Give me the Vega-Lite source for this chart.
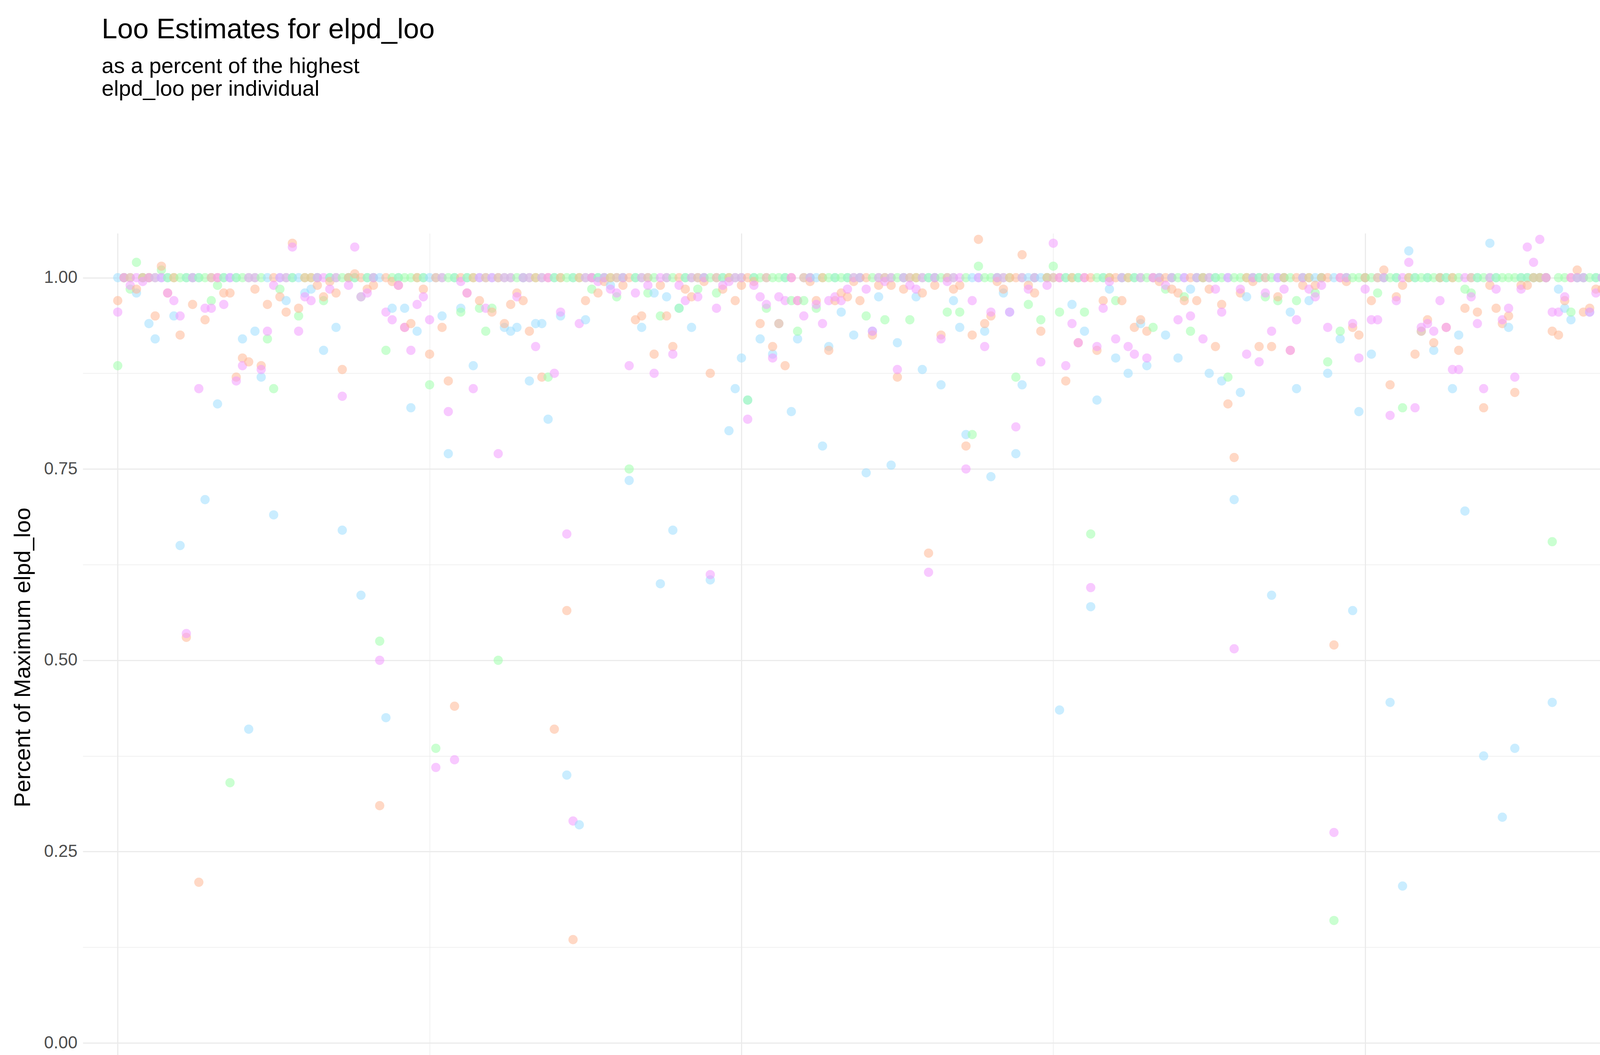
{
  "$schema": "https://vega.github.io/schema/vega-lite/v6.json",
  "autosize": {"type": "pad"},
  "width": 4410,
  "height": 2170,
  "padding": {"left": 30, "right": 10, "top": 40, "bottom": 20},
  "background": "white",
  "title": {
    "text": "Loo Estimates for elpd_loo",
    "subtitle": ["as a percent of the highest", "elpd_loo per individual"],
    "anchor": "start",
    "frame": "bounds",
    "offset": 40,
    "font": "Liberation Sans",
    "fontSize": 72,
    "fontWeight": "normal",
    "subtitleFont": "Liberation Sans",
    "subtitleFontSize": 56,
    "subtitlePadding": 30,
    "subtitleColor": "black",
    "dx": 230
  },
  "config": {"view": {"stroke": null}},
  "data": {"values": [
{"i":0,"n":1,"s":0.885,"y":0.97,"a":0.955},{"i":1,"n":1,"s":1,"y":1,"a":1},{"i":2,"n":1,"s":0.985,"y":1,"a":0.99},{"i":3,"n":0.98,"s":1.02,"y":0.985,"a":1},{"i":4,"n":1,"s":1,"y":1,"a":0.995},
{"i":5,"n":0.94,"s":1,"y":1,"a":1},{"i":6,"n":0.92,"s":1,"y":0.95,"a":1},{"i":7,"n":1,"s":1.01,"y":1.015,"a":1},{"i":8,"n":1,"s":1,"y":0.98,"a":0.98},{"i":9,"n":0.95,"s":1,"y":1,"a":0.97},
{"i":10,"n":0.65,"s":1,"y":0.925,"a":0.95},{"i":11,"n":1,"s":1,"y":0.53,"a":0.535},{"i":12,"n":1,"s":1,"y":0.965,"a":1},{"i":13,"n":1,"s":1,"y":0.21,"a":0.855},{"i":14,"n":0.71,"s":1,"y":0.945,"a":0.96},
{"i":15,"n":1,"s":0.97,"y":1,"a":0.96},{"i":16,"n":0.835,"s":0.99,"y":1,"a":1},{"i":17,"n":1,"s":1,"y":0.98,"a":0.965},{"i":18,"n":1,"s":0.34,"y":0.98,"a":1},{"i":19,"n":1,"s":1,"y":0.87,"a":0.865},
{"i":20,"n":0.92,"s":1,"y":0.895,"a":0.885},{"i":21,"n":0.41,"s":1,"y":0.89,"a":1},{"i":22,"n":0.93,"s":1,"y":0.985,"a":1},{"i":23,"n":0.87,"s":1,"y":0.885,"a":0.88},{"i":24,"n":1,"s":0.92,"y":0.965,"a":0.93},
{"i":25,"n":0.69,"s":0.855,"y":1,"a":0.99},{"i":26,"n":1,"s":0.985,"y":0.975,"a":1},{"i":27,"n":0.97,"s":1,"y":0.955,"a":1},{"i":28,"n":1,"s":1,"y":1.045,"a":1.04},{"i":29,"n":1,"s":0.95,"y":0.96,"a":0.93},
{"i":30,"n":0.98,"s":1,"y":1,"a":0.975},{"i":31,"n":0.985,"s":1,"y":1,"a":0.97},{"i":32,"n":1,"s":1,"y":0.99,"a":1},{"i":33,"n":0.905,"s":0.97,"y":0.975,"a":1},{"i":34,"n":1,"s":1,"y":0.995,"a":0.985},
{"i":35,"n":0.935,"s":1,"y":0.98,"a":1},{"i":36,"n":0.67,"s":1,"y":0.88,"a":0.845},{"i":37,"n":1,"s":1,"y":1,"a":0.99},{"i":38,"n":1,"s":1,"y":1.005,"a":1.04},{"i":39,"n":0.585,"s":0.975,"y":1,"a":0.975},
{"i":40,"n":1,"s":1,"y":0.985,"a":0.98},{"i":41,"n":1,"s":1,"y":0.99,"a":1},{"i":42,"n":1,"s":0.525,"y":0.31,"a":0.5},{"i":43,"n":0.425,"s":0.905,"y":1,"a":0.955},{"i":44,"n":0.96,"s":1,"y":0.995,"a":0.945},
{"i":45,"n":1,"s":1,"y":0.99,"a":0.99},{"i":46,"n":0.96,"s":1,"y":0.935,"a":0.935},{"i":47,"n":0.83,"s":1,"y":0.94,"a":0.905},{"i":48,"n":0.93,"s":1,"y":1,"a":0.965},{"i":49,"n":1,"s":1,"y":0.985,"a":0.975},
{"i":50,"n":1,"s":0.86,"y":0.9,"a":0.945},{"i":51,"n":1,"s":0.385,"y":1,"a":0.36},{"i":52,"n":0.95,"s":1,"y":0.935,"a":1},{"i":53,"n":0.77,"s":1,"y":0.865,"a":0.825},{"i":54,"n":1,"s":1,"y":0.44,"a":0.37},
{"i":55,"n":0.96,"s":0.955,"y":1,"a":0.995},{"i":56,"n":1,"s":1,"y":0.98,"a":0.98},{"i":57,"n":0.885,"s":1,"y":1,"a":0.855},{"i":58,"n":1,"s":0.96,"y":0.97,"a":1},{"i":59,"n":1,"s":0.93,"y":1,"a":0.96},
{"i":60,"n":1,"s":0.96,"y":0.955,"a":1},{"i":61,"n":1,"s":0.5,"y":1,"a":0.77},{"i":62,"n":0.935,"s":1,"y":0.94,"a":1},{"i":63,"n":0.93,"s":1,"y":0.965,"a":1},{"i":64,"n":0.935,"s":1,"y":0.98,"a":0.975},
{"i":65,"n":1,"s":1,"y":0.97,"a":1},{"i":66,"n":0.865,"s":1,"y":0.93,"a":1},{"i":67,"n":0.94,"s":1,"y":1,"a":0.91},{"i":68,"n":0.94,"s":1,"y":0.87,"a":1},{"i":69,"n":0.815,"s":0.87,"y":1,"a":1},
{"i":70,"n":1,"s":1,"y":0.41,"a":0.875},{"i":71,"n":0.95,"s":1,"y":1,"a":0.955},{"i":72,"n":0.35,"s":1,"y":0.565,"a":0.665},{"i":73,"n":1,"s":1,"y":0.135,"a":0.29},{"i":74,"n":0.285,"s":1,"y":1,"a":0.94},
{"i":75,"n":0.945,"s":1,"y":0.97,"a":1},{"i":76,"n":1,"s":0.985,"y":1,"a":1},{"i":77,"n":1,"s":1,"y":0.98,"a":0.995},{"i":78,"n":1,"s":1,"y":0.995,"a":1},{"i":79,"n":0.99,"s":1,"y":1,"a":0.985},
{"i":80,"n":1,"s":0.975,"y":1,"a":0.98},{"i":81,"n":1,"s":1,"y":0.99,"a":1},{"i":82,"n":0.735,"s":0.75,"y":1,"a":0.885},{"i":83,"n":1,"s":1,"y":0.945,"a":0.98},{"i":84,"n":0.935,"s":1,"y":0.95,"a":1},
{"i":85,"n":1,"s":0.98,"y":1,"a":0.99},{"i":86,"n":0.98,"s":1,"y":0.9,"a":0.875},{"i":87,"n":0.6,"s":0.95,"y":0.99,"a":1},{"i":88,"n":0.975,"s":1,"y":0.95,"a":1},{"i":89,"n":0.67,"s":1,"y":0.91,"a":0.9},
{"i":90,"n":0.96,"s":0.96,"y":1,"a":0.99},{"i":91,"n":1,"s":1,"y":0.985,"a":0.97},{"i":92,"n":0.935,"s":1,"y":0.975,"a":1},{"i":93,"n":1,"s":0.985,"y":1,"a":0.975},{"i":94,"n":1,"s":1,"y":0.995,"a":1},
{"i":95,"n":0.605,"s":1,"y":0.875,"a":0.612},{"i":96,"n":1,"s":0.98,"y":1,"a":0.96},{"i":97,"n":1,"s":1,"y":0.985,"a":0.99},{"i":98,"n":0.8,"s":1,"y":1,"a":0.995},{"i":99,"n":0.855,"s":1,"y":0.97,"a":1},
{"i":100,"n":0.895,"s":1,"y":0.99,"a":1},{"i":101,"n":0.84,"s":0.84,"y":1,"a":0.815},{"i":102,"n":1,"s":1,"y":0.995,"a":0.99},{"i":103,"n":0.92,"s":1,"y":0.94,"a":0.975},{"i":104,"n":1,"s":0.96,"y":1,"a":0.965},
{"i":105,"n":0.9,"s":1,"y":0.91,"a":0.895},{"i":106,"n":0.94,"s":1,"y":0.94,"a":0.975},{"i":107,"n":1,"s":1,"y":0.885,"a":0.97},{"i":108,"n":0.825,"s":0.97,"y":1,"a":1},{"i":109,"n":0.92,"s":0.93,"y":0.97,"a":0.97},
{"i":110,"n":1,"s":0.97,"y":1,"a":0.95},{"i":111,"n":1,"s":1,"y":0.995,"a":1},{"i":112,"n":1,"s":0.96,"y":0.97,"a":0.965},{"i":113,"n":0.78,"s":1,"y":1,"a":0.94},{"i":114,"n":0.91,"s":1,"y":0.905,"a":0.97},
{"i":115,"n":1,"s":1,"y":0.97,"a":0.975},{"i":116,"n":0.955,"s":1,"y":0.98,"a":0.97},{"i":117,"n":1,"s":1,"y":0.975,"a":0.985},{"i":118,"n":0.925,"s":1,"y":0.995,"a":1},{"i":119,"n":1,"s":1,"y":0.97,"a":1},
{"i":120,"n":0.745,"s":0.95,"y":1,"a":0.985},{"i":121,"n":0.93,"s":1,"y":0.925,"a":0.93},{"i":122,"n":0.975,"s":1,"y":0.99,"a":1},{"i":123,"n":1,"s":0.945,"y":1,"a":0.995},{"i":124,"n":0.755,"s":1,"y":0.99,"a":1},
{"i":125,"n":0.915,"s":1,"y":0.87,"a":0.88},{"i":126,"n":1,"s":1,"y":0.985,"a":1},{"i":127,"n":1,"s":0.945,"y":1,"a":0.99},{"i":128,"n":0.975,"s":1,"y":1,"a":0.985},{"i":129,"n":0.88,"s":1,"y":0.98,"a":1},
{"i":130,"n":1,"s":1,"y":0.64,"a":0.615},{"i":131,"n":1,"s":1,"y":0.99,"a":1},{"i":132,"n":0.86,"s":1,"y":0.925,"a":0.92},{"i":133,"n":1,"s":0.955,"y":1,"a":0.995},{"i":134,"n":0.97,"s":1,"y":0.985,"a":1},
{"i":135,"n":0.935,"s":0.955,"y":0.99,"a":1},{"i":136,"n":0.795,"s":1,"y":0.78,"a":0.75},{"i":137,"n":1,"s":0.795,"y":0.925,"a":0.97},{"i":138,"n":1,"s":1.015,"y":1.05,"a":1},{"i":139,"n":0.93,"s":1,"y":0.94,"a":0.91},
{"i":140,"n":0.74,"s":1,"y":0.95,"a":0.955},{"i":141,"n":1,"s":1,"y":0.995,"a":1},{"i":142,"n":0.98,"s":1,"y":0.985,"a":1},{"i":143,"n":0.955,"s":1,"y":1,"a":0.955},{"i":144,"n":0.77,"s":0.87,"y":1,"a":0.805},
{"i":145,"n":0.86,"s":1,"y":1.03,"a":1},{"i":146,"n":1,"s":0.965,"y":0.99,"a":0.985},{"i":147,"n":1,"s":1,"y":0.98,"a":1},{"i":148,"n":1,"s":0.945,"y":0.93,"a":0.89},{"i":149,"n":1,"s":1,"y":1,"a":0.99},
{"i":150,"n":1,"s":1.015,"y":1,"a":1.045},{"i":151,"n":0.435,"s":0.955,"y":1,"a":1},{"i":152,"n":1,"s":1,"y":0.865,"a":0.885},{"i":153,"n":0.965,"s":1,"y":1,"a":0.94},{"i":154,"n":1,"s":1,"y":0.915,"a":0.915},
{"i":155,"n":0.93,"s":0.955,"y":1,"a":1},{"i":156,"n":0.57,"s":0.665,"y":1,"a":0.595},{"i":157,"n":0.84,"s":1,"y":0.905,"a":0.91},{"i":158,"n":1,"s":1,"y":0.97,"a":0.96},{"i":159,"n":0.985,"s":1,"y":1,"a":0.995},
{"i":160,"n":0.895,"s":0.97,"y":1,"a":0.92},{"i":161,"n":1,"s":1,"y":0.97,"a":1},{"i":162,"n":0.875,"s":1,"y":1,"a":0.91},{"i":163,"n":1,"s":1,"y":0.935,"a":0.9},{"i":164,"n":0.94,"s":1,"y":0.945,"a":1},
{"i":165,"n":0.885,"s":1,"y":0.93,"a":0.895},{"i":166,"n":1,"s":0.935,"y":1,"a":1},{"i":167,"n":1,"s":1,"y":0.995,"a":1},{"i":168,"n":0.925,"s":0.985,"y":1,"a":0.99},{"i":169,"n":1,"s":1,"y":0.985,"a":1},
{"i":170,"n":0.895,"s":1,"y":0.98,"a":0.945},{"i":171,"n":1,"s":0.975,"y":0.97,"a":1},{"i":172,"n":0.985,"s":0.93,"y":1,"a":0.95},{"i":173,"n":1,"s":1,"y":0.97,"a":1},{"i":174,"n":1,"s":1,"y":1,"a":0.92},
{"i":175,"n":0.875,"s":1,"y":0.985,"a":1},{"i":176,"n":1,"s":1,"y":0.91,"a":0.985},{"i":177,"n":0.865,"s":1,"y":0.965,"a":0.955},{"i":178,"n":1,"s":0.87,"y":0.835,"a":1},{"i":179,"n":0.71,"s":1,"y":0.765,"a":0.515},
{"i":180,"n":0.85,"s":1,"y":0.98,"a":0.985},{"i":181,"n":0.975,"s":1,"y":1,"a":0.9},{"i":182,"n":1,"s":1,"y":0.995,"a":1},{"i":183,"n":1,"s":1,"y":0.91,"a":0.89},{"i":184,"n":1,"s":0.975,"y":1,"a":0.98},
{"i":185,"n":0.585,"s":1,"y":0.91,"a":0.93},{"i":186,"n":1,"s":0.97,"y":0.975,"a":1},{"i":187,"n":1,"s":1,"y":1,"a":0.985},{"i":188,"n":0.955,"s":1,"y":0.905,"a":0.905},{"i":189,"n":0.855,"s":0.97,"y":1,"a":0.945},
{"i":190,"n":1,"s":1,"y":0.99,"a":1},{"i":191,"n":0.97,"s":1,"y":1,"a":0.985},{"i":192,"n":1,"s":0.98,"y":0.99,"a":0.975},{"i":193,"n":1,"s":1,"y":1,"a":0.99},{"i":194,"n":0.875,"s":0.89,"y":1,"a":0.935},
{"i":195,"n":1,"s":0.16,"y":0.52,"a":0.275},{"i":196,"n":0.92,"s":0.93,"y":1,"a":1},{"i":197,"n":1,"s":1,"y":0.995,"a":1},{"i":198,"n":0.565,"s":1,"y":0.935,"a":0.94},{"i":199,"n":0.825,"s":1,"y":0.925,"a":0.895},
{"i":200,"n":1,"s":1,"y":1,"a":0.985},{"i":201,"n":0.9,"s":1,"y":0.97,"a":0.945},{"i":202,"n":1,"s":0.98,"y":1,"a":0.945},{"i":203,"n":1,"s":1,"y":1.01,"a":1},{"i":204,"n":0.445,"s":1,"y":0.86,"a":0.82},
{"i":205,"n":1,"s":1,"y":0.975,"a":0.97},{"i":206,"n":0.205,"s":0.83,"y":0.99,"a":1},{"i":207,"n":1.035,"s":1,"y":1,"a":1.02},{"i":208,"n":1,"s":1,"y":0.9,"a":0.83},{"i":209,"n":0.93,"s":1,"y":0.93,"a":0.935},
{"i":210,"n":1,"s":1,"y":0.945,"a":0.94},{"i":211,"n":0.905,"s":1,"y":0.915,"a":0.93},{"i":212,"n":1,"s":1,"y":1,"a":0.97},{"i":213,"n":1,"s":1,"y":0.935,"a":0.935},{"i":214,"n":0.855,"s":1,"y":1,"a":0.88},
{"i":215,"n":0.925,"s":1,"y":0.905,"a":0.88},{"i":216,"n":0.695,"s":0.985,"y":0.96,"a":1},{"i":217,"n":1,"s":0.98,"y":1,"a":0.975},{"i":218,"n":1,"s":1,"y":0.955,"a":0.94},{"i":219,"n":0.375,"s":1,"y":0.83,"a":0.855},
{"i":220,"n":1.045,"s":1,"y":0.99,"a":1},{"i":221,"n":1,"s":1,"y":0.96,"a":0.985},{"i":222,"n":0.295,"s":1,"y":0.94,"a":0.945},{"i":223,"n":0.935,"s":1,"y":0.95,"a":0.96},{"i":224,"n":0.385,"s":1,"y":0.85,"a":0.87},
{"i":225,"n":1,"s":1,"y":0.99,"a":0.985},{"i":226,"n":1,"s":1,"y":0.99,"a":1.04},{"i":227,"n":1,"s":1,"y":1,"a":1.02},{"i":228,"n":1,"s":1,"y":1,"a":1.05},{"i":229,"n":1,"s":1,"y":1,"a":1},
{"i":230,"n":0.445,"s":0.655,"y":0.93,"a":0.955},{"i":231,"n":0.985,"s":1,"y":0.925,"a":0.955},{"i":232,"n":0.96,"s":1,"y":0.97,"a":0.975},{"i":233,"n":0.945,"s":0.955,"y":1,"a":1},{"i":234,"n":1,"s":1,"y":1.01,"a":1},
{"i":235,"n":1,"s":1,"y":0.955,"a":1},{"i":236,"n":0.955,"s":1,"y":0.96,"a":0.955},{"i":237,"n":1,"s":1,"y":0.985,"a":0.98},{"i":238,"n":1,"s":1,"y":0.985,"a":1},{"i":239,"n":0.975,"s":1,"y":1,"a":0.985},
{"i":240,"n":1,"s":1,"y":1,"a":0.99},{"i":241,"n":1,"s":1,"y":0.98,"a":0.97},{"i":242,"n":1,"s":0.905,"y":0.93,"a":0.935},{"i":243,"n":1,"s":1,"y":0.995,"a":1},{"i":244,"n":0.97,"s":1,"y":0.95,"a":1},
{"i":245,"n":0.94,"s":1,"y":0.96,"a":0.955},{"i":246,"n":1,"s":1,"y":1.015,"a":1.03},{"i":247,"n":1,"s":1,"y":0.875,"a":0.835},{"i":248,"n":0.93,"s":1,"y":0.985,"a":0.9},{"i":249,"n":0.715,"s":1,"y":0.755,"a":0.905},
{"i":250,"n":0.97,"s":1,"y":0.98,"a":0.98},{"i":251,"n":0.21,"s":1,"y":0.95,"a":0.94},{"i":252,"n":0.91,"s":0.98,"y":1,"a":1},{"i":253,"n":0.855,"s":1,"y":1,"a":0.955},{"i":254,"n":1,"s":1,"y":0.985,"a":1},
{"i":255,"n":0.92,"s":1,"y":0.94,"a":1},{"i":256,"n":0.955,"s":1,"y":0.935,"a":0.96},{"i":257,"n":1,"s":1,"y":0.985,"a":0.99}
  ]},
  "transform": [
    {"fold": ["n", "s", "y", "a"], "as": ["key", "value"]},
    {"lookup": "key", "from": {"data": {"values": [
      {"key": "n", "model": "no learning"},
      {"key": "s", "model": "step learning"},
      {"key": "y", "model": "sym logi learning"},
      {"key": "a", "model": "asym logi learning"}
    ]}, "key": "key", "fields": ["model"]}}
  ],
  "mark": {"type": "circle", "size": 560, "opacity": 0.55, "stroke": null},
  "encoding": {
    "x": {
      "field": "i", "type": "quantitative",
      "scale": {"domain": [-5.6, 270.6], "nice": false, "zero": false},
      "axis": {
        "title": "Subject ID Number",
        "values": [0, 50, 100, 150, 200, 250],
        "labelExpr": "datum.value % 100 == 0 ? datum.label : ''",
        "format": "d",
        "grid": true, "gridColor": "#ebebeb",
        "gridWidth": {"condition": {"test": "datum.value % 100 == 0", "value": 3}, "value": 1.5},
        "ticks": false, "domain": false,
        "labelFont": "Liberation Sans", "labelFontSize": 44, "labelColor": "#4d4d4d", "labelPadding": 14,
        "titleFont": "Liberation Sans", "titleFontSize": 58, "titleFontWeight": "normal", "titleColor": "black", "titlePadding": 24
      }
    },
    "y": {
      "field": "value", "type": "quantitative",
      "scale": {"domain": [-0.05, 1.058], "nice": false, "zero": false},
      "axis": {
        "title": "Percent of Maximum elpd_loo",
        "values": [0, 0.125, 0.25, 0.375, 0.5, 0.625, 0.75, 0.875, 1],
        "labelExpr": "(datum.value * 4) % 1 == 0 ? format(datum.value, '.2f') : ''",
        "grid": true, "gridColor": "#ebebeb",
        "gridWidth": {"condition": {"test": "(datum.value * 4) % 1 == 0", "value": 3}, "value": 1.5},
        "ticks": false, "domain": false,
        "labelFont": "Liberation Sans", "labelFontSize": 44, "labelColor": "#4d4d4d", "labelPadding": 14,
        "titleFont": "Liberation Sans", "titleFontSize": 58, "titleFontWeight": "normal", "titleColor": "black", "titlePadding": 24
      }
    },
    "color": {
      "field": "model", "type": "nominal",
      "scale": {
        "domain": ["no learning", "step learning", "sym logi learning", "asym logi learning"],
        "range": ["#9fdfff", "#9fffac", "#ffb895", "#f29cff"]
      },
      "legend": {
        "title": null,
        "orient": "none",
        "legendX": 3890,
        "legendY": -300,
        "symbolSize": 1500,
        "symbolOpacity": 0.55,
        "symbolType": "circle",
        "symbolStrokeWidth": 0,
        "labelFont": "Liberation Sans",
        "labelFontSize": 46,
        "labelColor": "black",
        "rowPadding": 10,
        "labelOffset": 20
      }
    }
  }
}
